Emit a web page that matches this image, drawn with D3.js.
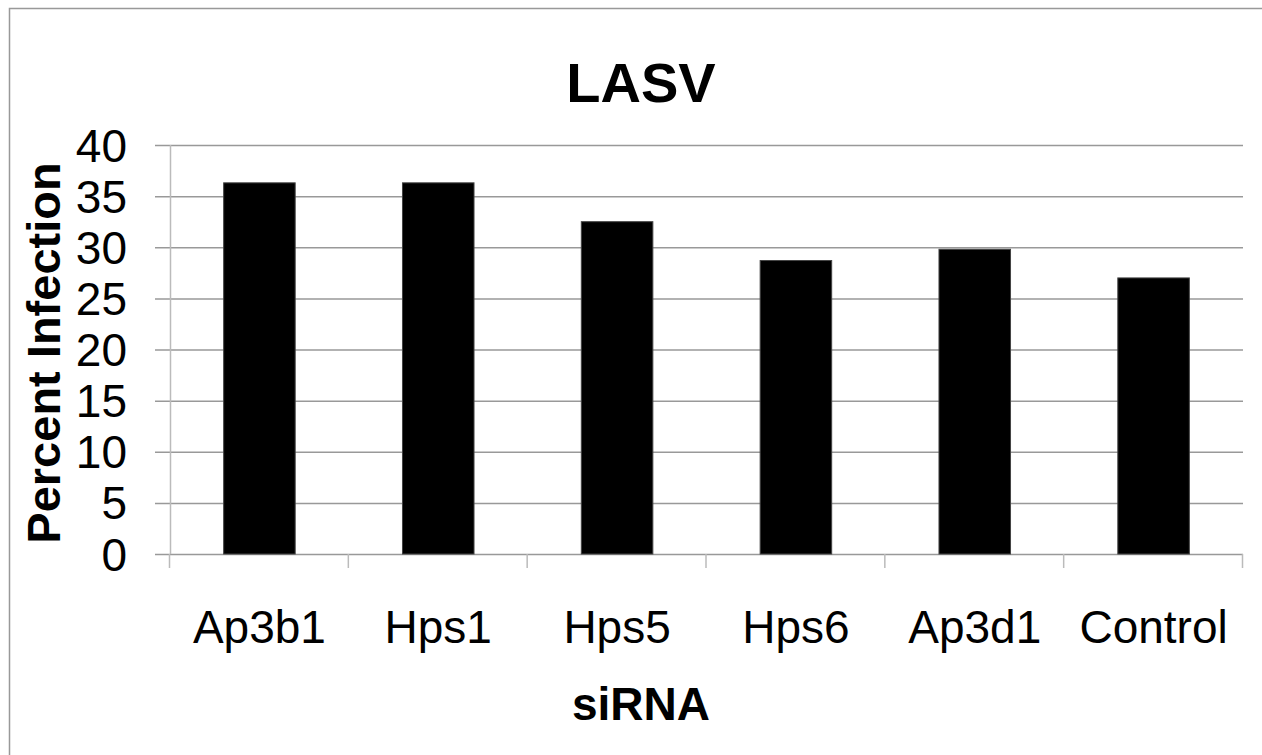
<!DOCTYPE html>
<html>
<head>
<meta charset="utf-8">
<script src="https://cdn.jsdelivr.net/npm/d3@7"></script>
<style>
  body { margin: 0; background: #fff; }
  svg { display: block; font-family: "Liberation Sans", Arial, sans-serif; }
</style>
</head>
<body>
<svg id="chart" width="1262" height="755"></svg>
<script>
// data
const categories = ["Ap3b1", "Hps1", "Hps5", "Hps6", "Ap3d1", "Control"];
const infection = [36.3, 36.3, 32.5, 28.7, 29.8, 27.0];
const yTicks = [0, 5, 10, 15, 20, 25, 30, 35, 40];

const W = 1262, H = 755;
const margin = { top: 145, right: 19, bottom: 201, left: 170 };
const innerW = W - margin.left - margin.right;
const innerH = H - margin.top - margin.bottom;

const svg = d3.select("#chart");

// outer frame (right/bottom edges fall outside the picture)
svg.append("rect")
  .attr("x", 9.5).attr("y", 8.5)
  .attr("width", W).attr("height", H)
  .attr("fill", "none").attr("stroke", "#999").attr("stroke-width", 1.5);

const g = svg.append("g").attr("transform", `translate(${margin.left},${margin.top})`);

const x = d3.scaleBand().domain(categories).range([0, innerW])
  .paddingInner(0.6).paddingOuter(0.3);
const y = d3.scaleLinear().domain([0, 40]).range([innerH, 0]);

// gridlines + y ticks
g.append("g")
  .selectAll("line")
  .data(yTicks)
  .join("line")
  .attr("x1", -15).attr("x2", innerW)
  .attr("y1", d => y(d) + 0.5).attr("y2", d => y(d) + 0.5)
  .attr("stroke", "#999").attr("stroke-width", 1.5);

g.append("g")
  .selectAll("text")
  .data(yTicks)
  .join("text")
  .attr("x", -43).attr("y", d => y(d))
  .attr("dy", "0.36em")
  .attr("text-anchor", "end")
  .attr("font-size", 46)
  .attr("fill", "#000")
  .text(d => d);

// y axis line
g.append("line")
  .attr("x1", 0.5).attr("x2", 0.5).attr("y1", 0).attr("y2", innerH)
  .attr("stroke", "#bbb").attr("stroke-width", 1.5);

// x axis ticks between categories
const step = x.step();
g.append("g")
  .selectAll("line")
  .data(d3.range(categories.length + 1))
  .join("line")
  .attr("x1", i => i * step - 1 + 0.5).attr("x2", i => i * step - 1 + 0.5)
  .attr("y1", innerH).attr("y2", innerH + 14)
  .attr("stroke", "#bbb").attr("stroke-width", 1.5);

// bars
g.append("g")
  .selectAll("rect")
  .data(categories)
  .join("rect")
  .attr("x", d => x(d))
  .attr("y", (d, i) => y(infection[i]))
  .attr("width", x.bandwidth())
  .attr("height", (d, i) => innerH - y(infection[i]))
  .attr("fill", "#000")
  .attr("stroke", "#444").attr("stroke-width", 1);

// category labels
g.append("g")
  .selectAll("text")
  .data(categories)
  .join("text")
  .attr("x", d => x(d) + x.bandwidth() / 2)
  .attr("y", innerH + 89)
  .attr("text-anchor", "middle")
  .attr("font-size", 46)
  .text(d => d);

// titles
svg.append("text")
  .attr("x", 641).attr("y", 102)
  .attr("text-anchor", "middle")
  .attr("font-size", 56).attr("font-weight", "bold")
  .text("LASV");

svg.append("text")
  .attr("x", 641).attr("y", 720)
  .attr("text-anchor", "middle")
  .attr("font-size", 46).attr("font-weight", "bold")
  .text("siRNA");

svg.append("text")
  .attr("transform", "translate(60,353) rotate(-90)")
  .attr("text-anchor", "middle")
  .attr("font-size", 47).attr("font-weight", "bold")
  .text("Percent Infection");
</script>
</body>
</html>
